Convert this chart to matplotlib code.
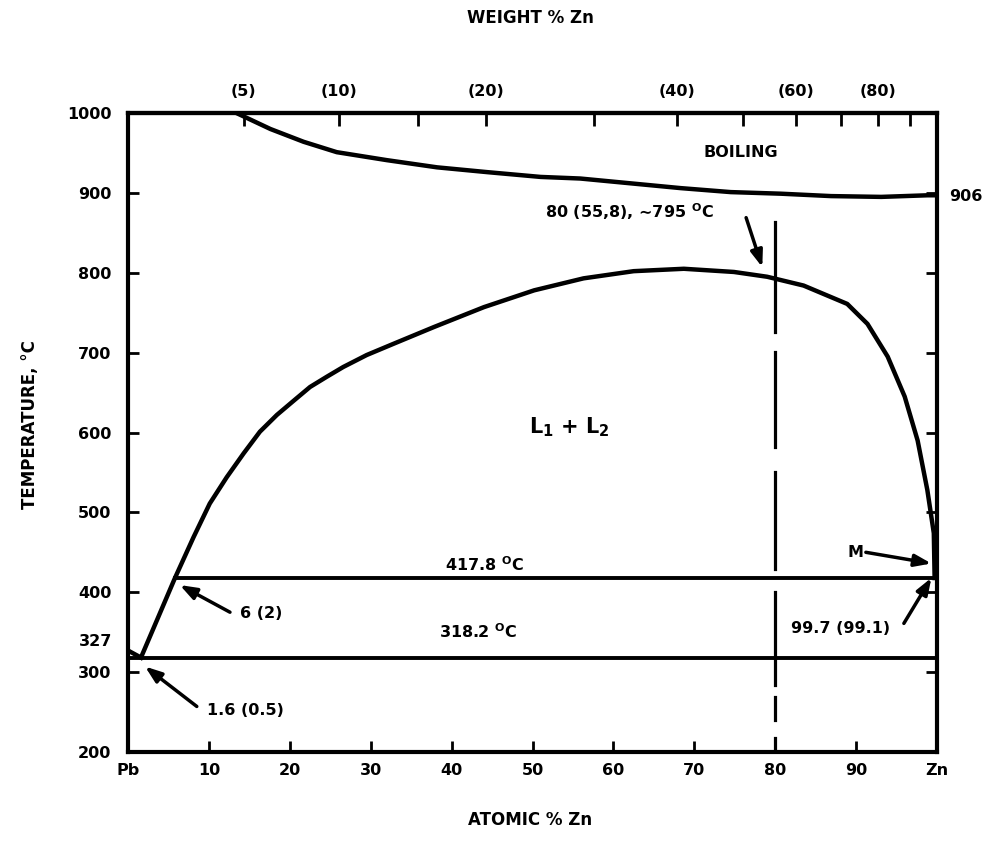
import matplotlib.pyplot as plt
import numpy as np

plt.rcParams['font.family'] = 'DejaVu Sans'
plt.rcParams['font.weight'] = 'bold'
plt.rcParams['mathtext.fontset'] = 'dejavusans'

# atomic % Zn vs temperature
dome_at = [1.6, 5.8, 8.1, 10.1, 12.2, 14.3, 16.3, 18.4, 20.5, 22.5, 24.6, 26.6,
           29.5, 32.8, 37.8, 44.0, 50.2, 56.3, 62.5, 68.7, 74.9, 79.0, 83.5,
           88.9, 91.4, 93.9, 96.0, 97.6, 98.8, 99.6, 99.7]
dome_t = [318.2, 417.8, 469, 511, 544, 574, 601, 622, 640, 657, 670, 682,
          697, 711, 732, 757, 778, 793, 802, 805, 801, 795, 784,
          761, 736, 695, 645, 590, 528, 474, 417.8]

pb_liq_at = [0.0, 1.6]
pb_liq_t = [327, 318.2]

boil_at = [13.4, 17.6, 21.7, 25.8, 32.0, 38.2, 44.4, 51.0, 55.9, 62.1, 68.3,
           74.5, 80.7, 86.9, 93.1, 98.8, 100.0]
boil_t = [1000, 980, 964, 951, 941, 932, 926, 920, 918, 912, 906,
          901, 899, 896, 895, 897, 897]

monotectic_t = 417.8
monotectic_at = [5.8, 100.0]
eutectic_t = 318.2
eutectic_at = [0.0, 100.0]

# dashed 80 at.% line, pieces as drawn (temperature ranges)
dash_x = 80
dash_pieces = [(863, 726), (701, 582), (550, 429), (400, 284), (269, 240), (218, 200)]

at_ticks = [0, 10, 20, 30, 40, 50, 60, 70, 80, 90, 100]
at_labels = ["Pb", "10", "20", "30", "40", "50", "60", "70", "80", "90", "Zn"]
t_ticks = [200, 300, 400, 500, 600, 700, 800, 900, 1000]
wt_ticks = [5, 10, 15, 20, 30, 40, 50, 60, 70, 80, 90]
wt_labels = ["(5)", "(10)", "", "(20)", "", "(40)", "", "(60)", "", "(80)", ""]

M_ZN, M_PB = 65.38, 207.2


def at2wt(a):
    a = np.asarray(a, dtype=float)
    return 100 * a * M_ZN / (a * M_ZN + (100 - a) * M_PB)


def wt2at(w):
    w = np.asarray(w, dtype=float)
    return 100 * (w / M_ZN) / (w / M_ZN + (100 - w) / M_PB)


fig = plt.figure(figsize=(9.94, 8.55), dpi=100)
ax = fig.add_axes([0.1288, 0.1205, 0.8139, 0.7473])
ax.set_xlim(0, 100)
ax.set_ylim(200, 1000)

lw = 3.2
ax.plot(dome_at, dome_t, color="black", lw=lw, solid_joinstyle="round")
ax.plot(pb_liq_at, pb_liq_t, color="black", lw=lw)
ax.plot(boil_at, boil_t, color="black", lw=lw, solid_joinstyle="round")
ax.plot(monotectic_at, [monotectic_t] * 2, color="black", lw=2.8)
ax.plot(eutectic_at, [eutectic_t] * 2, color="black", lw=2.8)
for t0, t1 in dash_pieces:
    ax.plot([dash_x, dash_x], [t0, t1], color="black", lw=2.3)

for s in ax.spines.values():
    s.set_linewidth(3)

ax.set_xticks(at_ticks)
ax.set_xticklabels(at_labels)
ax.set_yticks(t_ticks)
ax.tick_params(direction="in", length=8, width=2, labelsize=11.5)
ax.tick_params(axis="x", pad=8)
ax.tick_params(axis="y", pad=12, right=True)

sec = ax.secondary_xaxis("top", functions=(at2wt, wt2at))
sec.set_xticks(wt_ticks)
sec.set_xticklabels(wt_labels)
sec.tick_params(direction="in", length=9, width=2, labelsize=11.5, pad=10)
sec.spines["top"].set_linewidth(3)

fs = 11.5
ax.text(-2.0, 338, "327", ha="right", va="center", fontsize=fs)
ax.text(101.5, 895, "906", ha="left", va="center", fontsize=fs)

ax.text(75.7, 950, "BOILING", ha="center", va="center", fontsize=fs)
ax.text(54.5, 607, r"L$_\mathbf{1}$ + L$_\mathbf{2}$", ha="center", va="center", fontsize=15)
ax.text(44.1, 434, r"417.8 $^\mathbf{O}$C", ha="center", va="center", fontsize=fs)
ax.text(43.3, 351, r"318.2 $^\mathbf{O}$C", ha="center", va="center", fontsize=fs)
ax.text(72.4, 876, r"80 (55,8), ∼795 $^\mathbf{O}$C", ha="right", va="center", fontsize=fs)
ax.text(16.4, 374, "6 (2)", ha="center", va="center", fontsize=fs)
ax.text(14.5, 252, "1.6 (0.5)", ha="center", va="center", fontsize=fs)
ax.text(89.9, 450, "M", ha="center", va="center", fontsize=fs)
ax.text(88.1, 355, "99.7 (99.1)", ha="center", va="center", fontsize=fs)

arrows = [((12.6, 375), (6.4, 409)),
          ((8.5, 257), (2.1, 307)),
          ((76.4, 869), (78.4, 807)),
          ((91.2, 450), (99.3, 436)),
          ((95.9, 361), (99.3, 418))]
for tail, tip in arrows:
    ax.annotate("", xy=tip, xytext=tail,
                arrowprops=dict(arrowstyle="-|>,head_length=0.55,head_width=0.2",
                                color="black", lw=2.5, mutation_scale=18,
                                shrinkA=0, shrinkB=0))

fig.text(30 / 994, 1 - 425 / 855, "TEMPERATURE, °C", rotation=90,
         ha="center", va="center", fontsize=12)
fig.text(530 / 994, 1 - 820 / 855, "ATOMIC % Zn", ha="center", va="center", fontsize=12)
fig.text(530 / 994, 1 - 18 / 855, "WEIGHT % Zn", ha="center", va="center", fontsize=12)

fig.savefig("out.png", dpi=100)
